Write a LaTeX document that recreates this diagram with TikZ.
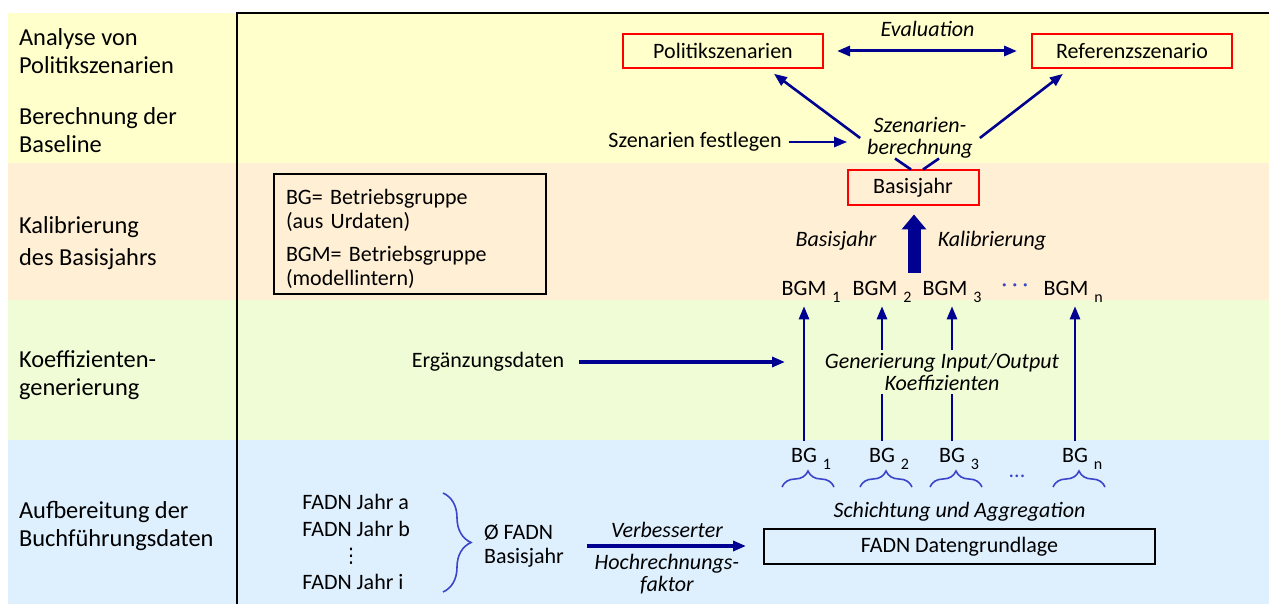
\documentclass[tikz,border=0pt]{standalone}
\usepackage{fontspec}
\setmainfont{Carlito}
\newfontfamily\symfont{DejaVu Sans}
\usepackage{tikz}
\usetikzlibrary{positioning,calc,arrows.meta,decorations.pathreplacing}
\definecolor{bandyellow}{RGB}{255,255,204}
\definecolor{bandorange}{RGB}{255,239,212}
\definecolor{bandgreen}{RGB}{240,252,214}
\definecolor{bandblue}{RGB}{222,239,254}
\definecolor{arrowblue}{RGB}{0,0,145}
\definecolor{braceblue}{RGB}{60,70,200}
\definecolor{boxred}{RGB}{255,0,0}
\newcommand{\bandfont}{\fontsize{12.2}{14}\selectfont}
\newcommand{\diagfont}{\fontsize{11}{13}\selectfont}
\newcommand{\tightfont}{\fontsize{11}{11}\selectfont\itshape}
\newcommand{\bgidx}[1]{\rlap{\hspace{3pt}\raisebox{-3.5pt}[0pt][0pt]{\fontsize{8}{9}\selectfont #1}}}

\begin{document}
\begin{tikzpicture}[x=0.5pt, y=-0.5pt, every node/.style={font=\diagfont}, >={Triangle[length=6.5pt, width=5pt]}]
  \tikzstyle{band}=[anchor=west, align=left, font=\bandfont]
  \tikzstyle{redbox}=[draw=boxred, line width=1pt, minimum width=100pt, minimum height=17pt]
  \tikzstyle{flow}=[draw=arrowblue, line width=1.3pt, ->]
  \tikzstyle{link}=[draw=arrowblue, line width=1.3pt]
  \tikzstyle{fat}=[draw=arrowblue, line width=6.5pt, -{Triangle[length=7.5pt, width=12pt]}]
  \tikzstyle{lbl}=[font=\diagfont\itshape, align=center]
  \tikzstyle{bgbrace}=[draw=braceblue, line width=0.8pt, decorate, decoration={brace, amplitude=8pt}]
  \tikzstyle{fadn}=[anchor=west, inner sep=1pt]
  \useasboundingbox (0,0) rectangle (1269,604);
  \fill[bandyellow] (8,13) rectangle (1269,163);
  \fill[bandorange] (8,163) rectangle (1269,300);
  \fill[bandgreen] (8,300) rectangle (1269,440);
  \fill[bandblue] (8,440) rectangle (1269,604);
  \draw[line width=1.2pt] (1269,13) -- (237,13) -- (237,604);
  \node[band] (analyse) at (12,51) {Analyse von\\Politikszenarien};
  \node[band] (baseline) at (12,130) {Berechnung der\\Baseline};
  \node[band] (kalib) at (12,243) {Kalibrierung\\[2pt]des Basisjahrs};
  \node[band] (koeff) at (12,375) {Koeffizienten-\\generierung};
  \node[band] (aufb) at (12,526) {Aufbereitung der\\Buchführungsdaten};

  \node[redbox] (pol) at (723,51) {Politikszenarien};
  \node[redbox] (ref) at (1132,51) {Referenzszenario};
  \draw[flow, <->, line width=1.5pt, shorten <=6.5pt, shorten >=7pt] (pol.east) -- node[above=3pt, lbl] (evalu) {Evaluation} (ref.west);
  \node[lbl, font=\tightfont] (szenber) at (920,138) {Szenarien-\\berechnung};
  \node (festl) at (695,142) {Szenarien festlegen};
  \draw[flow, shorten >=6.5pt] (festl.east) -- (festl.east -| szenber.west);
  \draw[flow, shorten >=4pt] (szenber.west) -- (pol.-22);
  \draw[flow, shorten >=4pt] (szenber.east) -- (ref.-164);

  \node[redbox, minimum width=65.5pt, minimum height=17.5pt] (basis) at (913,188) {Basisjahr};
  \draw[link] ($(basis.north)+(-2,0)$) -- ++(-16,-11);
  \draw[link] ($(basis.north)+(10,0)$) -- ++(16,-11);
  \coordinate (calbase) at (914,273);
  \draw[fat, shorten >=4pt] (calbase) -- (calbase |- basis.south);
  \node[lbl] (bjlabel) at (836,241) {Basisjahr};
  \node[lbl] (kallabel) at (992,241) {Kalibrierung};
  \node[draw, line width=0.8pt, minimum width=136pt, minimum height=60pt] (legend) at (410,234) {};
  \node[text width=124pt, align=left, font=\fontsize{11}{11.8}\selectfont] (legendtext) at ($(legend)+(0,5)$) {BG= Betriebsgruppe\\(aus Urdaten)\\[5pt]BGM= Betriebsgruppe\\(modellintern)};

  \node (bgm1) at (804,288) {BGM\bgidx{1}};
  \node (bgm2) at (875,288) {BGM\bgidx{2}};
  \node (bgm3) at (945,288) {BGM\bgidx{3}};
  \node[text=braceblue] (bgmdots) at (1015,288) {· · ·};
  \node (bgmn) at (1066,288) {BGM\bgidx{n}};

  \node (bg1) at (804,455) {BG\bgidx{1}};
  \node (bg2) at (882,455) {BG\bgidx{2}};
  \node (bg3) at (952,455) {BG\bgidx{3}};
  \node (bgn) at (1075,455) {BG\bgidx{n}};
  \node[text=braceblue] (bgdots) at (1017,476) {...};
  \foreach \b in {bg1,bg2,bg3,bgn}
    \draw[bgbrace] ($(\b)+(-22,32)$) -- ($(\b)+(30,32)$);

  \node[lbl, font=\tightfont, inner sep=1.5pt] (gen) at (942,372) {Generierung Input/Output\\Koeffizienten};
  \draw[flow, shorten >=2pt] (bg1.north) -- (bg1.north |- bgm1.south);
  \draw[link] (bg2.north) -- (bg2.north |- gen.south);
  \draw[flow, shorten >=2pt] (bg2.north |- gen.north) -- (bg2.north |- bgm2.south);
  \draw[link] (bg3.north) -- (bg3.north |- gen.south);
  \draw[flow, shorten >=2pt] (bg3.north |- gen.north) -- (bg3.north |- bgm3.south);
  \draw[flow, shorten >=2pt] (bgn.north) -- (bgn.north |- bgmn.south);
  \node (ergdat) at (488,362) {Ergänzungsdaten};
  \draw[flow, line width=1.6pt, shorten <=4pt, shorten >=9.5pt] (ergdat.east) -- (ergdat.east -| bg1.north);

  \node[draw, line width=1pt, minimum width=195.5pt, minimum height=17.5pt] (dgl) at (959.5,546.5) {FADN Datengrundlage};
  \node[lbl, above=0pt of dgl] (schicht) {Schichtung und Aggregation};
  \node[fadn] (fadna) at (300,502) {FADN Jahr a};
  \node[fadn] (fadnb) at (300,529) {FADN Jahr b};
  \node[inner sep=0pt, font=\symfont\fontsize{10}{10}\selectfont] (fadndots) at (351,556) {⋮};
  \node[fadn] (fadni) at (300,582) {FADN Jahr i};
  \draw[draw=braceblue, line width=0.8pt, decorate, decoration={brace, amplitude=14pt}] (443,493) -- (443,592);
  \node[anchor=west, align=left, font=\fontsize{11}{12}\selectfont] (avgfadn) at (477,546) {Ø FADN\\Basisjahr};
  \draw[flow, line width=1.6pt, shorten <=8pt, shorten >=8.5pt] (avgfadn.east) -- node[midway, above, lbl] (verb) {Verbesserter} node[midway, below, lbl, font=\tightfont] (hochr) {Hochrechnungs-\\faktor} (avgfadn.east -| dgl.west);
\end{tikzpicture}
\end{document}
